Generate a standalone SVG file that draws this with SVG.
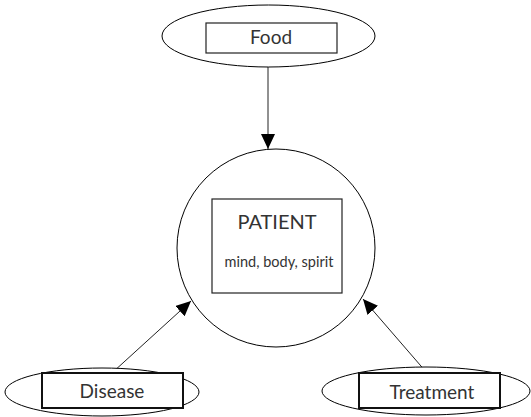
<svg xmlns="http://www.w3.org/2000/svg" width="531" height="417" viewBox="0 0 531 417">
<style>
.sh{fill:#fff;stroke:#000;stroke-width:1}
.bx{fill:#fff;stroke:#222;stroke-width:1.2}
.bx2{fill:#fff;stroke:#111;stroke-width:2}
.t{font-family:Lato,"Liberation Sans",sans-serif;fill:#333;text-anchor:middle}
.c{stroke:#222;stroke-width:1;fill:none}
</style>
<defs>
<marker id="ah" markerUnits="userSpaceOnUse" markerWidth="16" markerHeight="14" refX="15" refY="7" orient="auto">
<path d="M0,0 L15,7 L0,14 Z" fill="#000"/>
</marker>
</defs>
<g id="connectors">
<line class="c" x1="268" y1="67" x2="268" y2="149" marker-end="url(#ah)"/>
<line class="c" x1="113" y1="372" x2="191" y2="301" marker-end="url(#ah)"/>
<line class="c" x1="427" y1="373" x2="363" y2="299" marker-end="url(#ah)"/>
</g>
<g id="patient">
<circle class="sh" cx="276" cy="248" r="99"/>
<rect class="bx" x="212" y="199" width="130" height="94"/>
<text class="t" x="277" y="229" font-size="20">PATIENT</text>
<text class="t" x="279" y="267" font-size="14.5">mind, body, spirit</text>
</g>
<g id="food">
<ellipse class="sh" cx="268.5" cy="36" rx="106.5" ry="31"/>
<rect class="bx" x="206" y="23" width="131" height="30"/>
<text class="t" x="271" y="44" font-size="19">Food</text>
</g>
<g id="disease">
<ellipse class="sh" cx="102" cy="392" rx="97" ry="24"/>
<rect class="bx2" x="42" y="373" width="141" height="35"/>
<text class="t" x="112" y="398" font-size="19">Disease</text>
</g>
<g id="treatment">
<ellipse class="sh" cx="426" cy="391" rx="104" ry="24"/>
<rect class="bx2" x="359" y="373" width="141" height="35"/>
<text class="t" x="432" y="399" font-size="19">Treatment</text>
</g>
</svg>
